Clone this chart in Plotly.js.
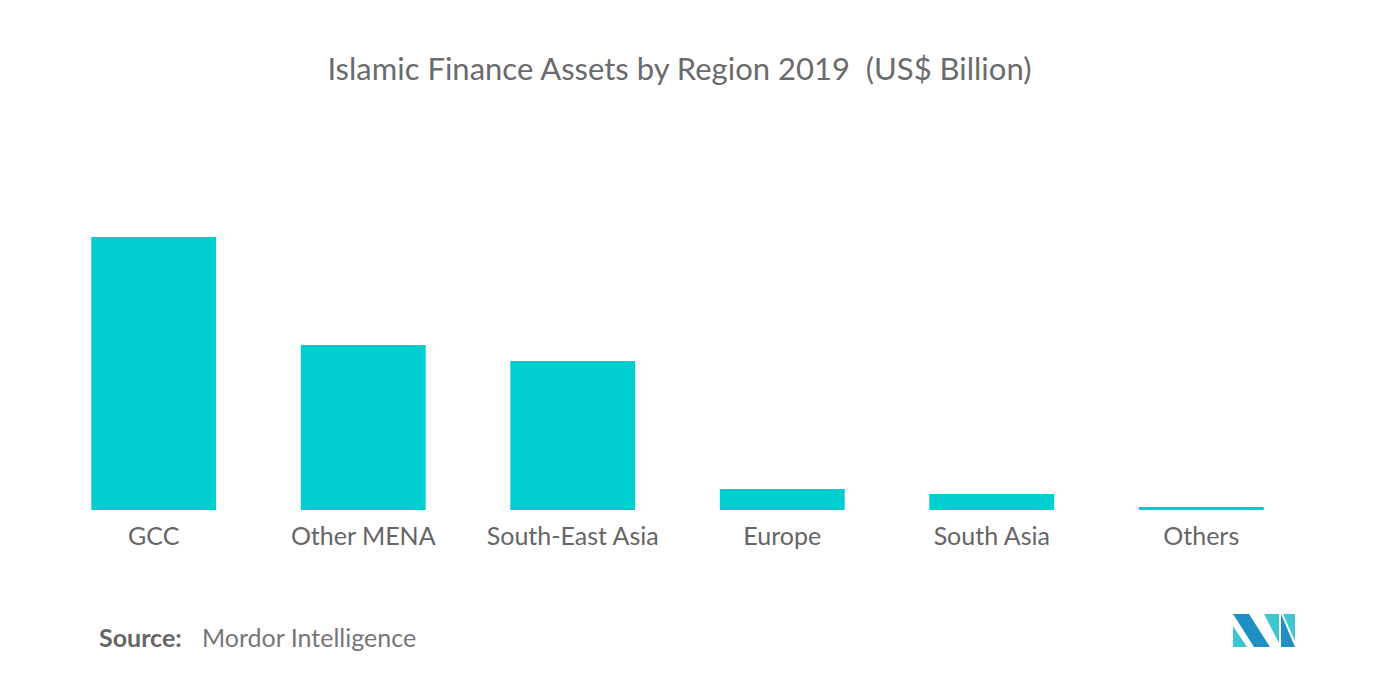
<!DOCTYPE html>
<html><head><meta charset="utf-8">
<script src="https://cdn.plot.ly/plotly-3.0.1.min.js"></script>
<style>html,body{margin:0;padding:0;background:#fff}#chart{width:1398px;height:688px}</style>
</head><body><div id="chart"></div>
<script>
const regions = ["GCC", "Other MENA", "South-East Asia", "Europe", "South Asia", "Others"];
const assets = [1214, 734, 663, 93, 71, 13];
const barColor = "#00CED1";

const W = 1398, H = 688;
const M = {l: 49, r: 92, t: 100, b: 178};
const px = x => (x - M.l) / (W - M.l - M.r);
const py = y => (H - M.b - y) / (H - M.t - M.b);
function poly(pts, color) {
  return {type: "path", xref: "paper", yref: "paper", line: {width: 0}, fillcolor: color,
    path: "M" + pts.map(p => px(p[0]) + "," + py(p[1])).join("L") + "Z"};
}
const logoShapes = [
  poly([[1233,614],[1249,614],[1270,647],[1254,647]], "#1f8fc4"),
  poly([[1233,626],[1233,647],[1247,647]], "#3cc6cf"),
  poly([[1264,614],[1279,614],[1279,643]], "#3cc6cf"),
  poly([[1281,614],[1295,647],[1281,647]], "#1f8fc4"),
  poly([[1283,614],[1295,614],[1295,641]], "#3cc6cf")
];

const trace = {type: "bar", x: regions, y: assets, marker: {color: barColor}, hoverinfo: "x+y"};
const layout = {
  width: W, height: H, margin: M,
  paper_bgcolor: "#fff", plot_bgcolor: "#fff",
  font: {family: "Lato, 'Open Sans', sans-serif", color: "#666"},
  title: {text: "Islamic Finance Assets by Region 2019  (US$ Billion)", x: 0.486, xanchor: "center", y: 0.9, yanchor: "middle",
    font: {size: 31, color: "#6b6b6b", family: "Lato, sans-serif"}},
  bargap: 0.404,
  xaxis: {showgrid: false, zeroline: false, showline: false, ticks: "outside", ticklen: 4, tickcolor: "rgba(0,0,0,0)",
    tickfont: {size: 25, color: "#666"}},
  yaxis: {visible: false, range: [0, 1214 / 273 * 410], showgrid: false, zeroline: false},
  showlegend: false,
  shapes: logoShapes,
  annotations: [
    {text: "<b>Source:</b>", xref: "paper", yref: "paper", x: px(97), y: py(637), xanchor: "left", yanchor: "middle",
      showarrow: false, font: {size: 25, color: "#666"}},
    {text: "Mordor Intelligence", xref: "paper", yref: "paper", x: px(200), y: py(637), xanchor: "left", yanchor: "middle",
      showarrow: false, font: {size: 25, color: "#777"}}
  ]
};
Plotly.newPlot("chart", [trace], layout, {displayModeBar: false, staticPlot: true});
</script></body></html>
